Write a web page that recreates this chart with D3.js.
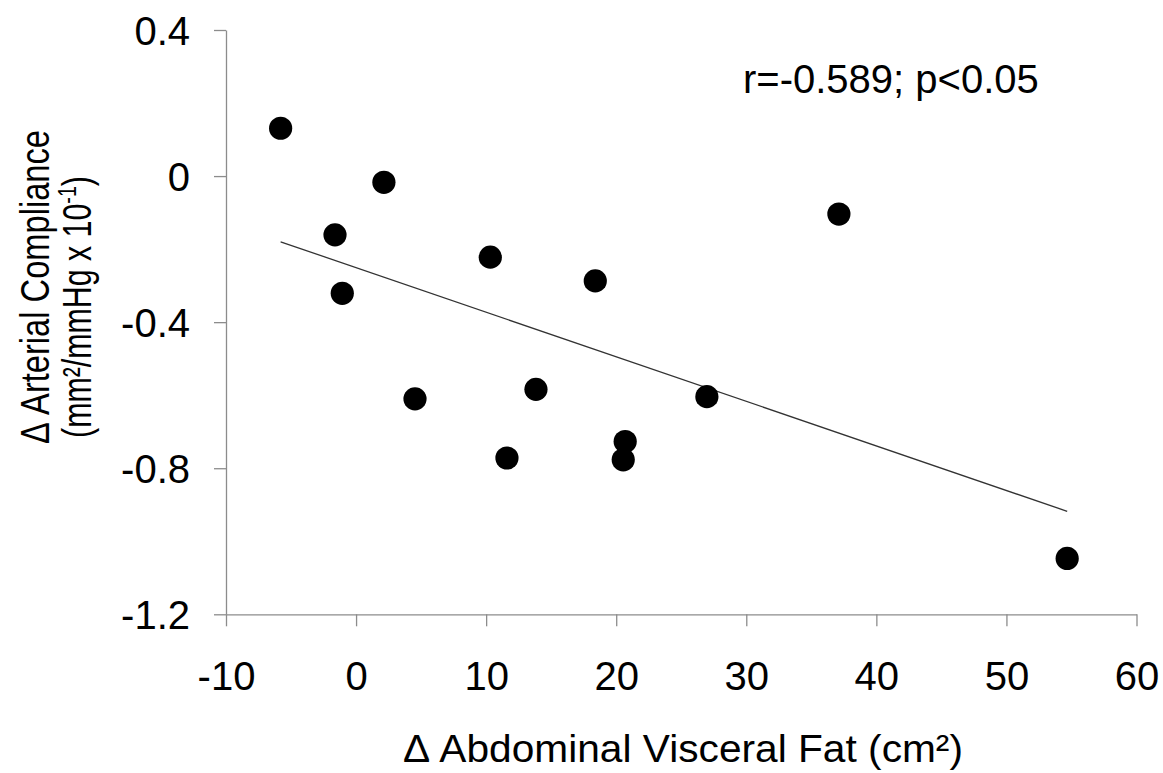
<!DOCTYPE html>
<html>
<head>
<meta charset="utf-8">
<script src="https://cdn.jsdelivr.net/npm/d3@7"></script>
<style>
  html, body { margin: 0; padding: 0; background: #fff; }
  svg { display: block; }
  text { font-family: "Liberation Sans", Arial, sans-serif; fill: #000; }
</style>
</head>
<body>
<svg id="chart" width="1163" height="773"></svg>
<script>
// Data
const fatChange = [-5.80, 2.14, -1.62, 10.32, 18.39, -1.06, 4.53, 13.83, 11.60, 20.69, 20.54, 37.12, 26.97, 54.67];
const complianceChange = [0.131, -0.017, -0.161, -0.222, -0.287, -0.321, -0.610, -0.584, -0.772, -0.727, -0.777, -0.104, -0.604, -1.047];
const xTicks = [-10, 0, 10, 20, 30, 40, 50, 60];
const xTickLabels = ["-10", "0", "10", "20", "30", "40", "50", "60"];
const yTicks = [0.4, 0, -0.4, -0.8, -1.2];
const yTickLabels = ["0.4", "0", "-0.4", "-0.8", "-1.2"];
const annotation = "r=-0.589; p<0.05";

const svg = d3.select("#chart");
const axisColor = "#8c8c8c";

const x = d3.scaleLinear().domain([-10, 60]).range([226, 1136.5]);
const y = d3.scaleLinear().domain([-1.2, 0.4]).range([614.3, 30]);

// X axis
const xAxis = d3.axisBottom(x).tickValues(xTicks).tickSize(12).tickSizeOuter(0)
  .tickFormat((d, i) => xTickLabels[i]);
const gx = svg.append("g").attr("transform", `translate(0,${y(-1.2)})`).call(xAxis);
gx.select(".domain").attr("stroke", axisColor).attr("stroke-width", 1.3);
gx.selectAll(".tick line").attr("stroke", axisColor).attr("stroke-width", 1.3);
gx.selectAll(".tick text").attr("font-size", 40).attr("font-family", "Liberation Sans, Arial, sans-serif")
  .attr("fill", "#000").attr("y", 0).attr("dy", 0).attr("transform", "translate(0,76)");

// Y axis
const yAxis = d3.axisLeft(y).tickValues(yTicks).tickSize(12).tickSizeOuter(0)
  .tickFormat((d, i) => yTickLabels[i]);
const gy = svg.append("g").attr("transform", `translate(${x(-10)},0)`).call(yAxis);
gy.select(".domain").attr("stroke", axisColor).attr("stroke-width", 1.3);
gy.selectAll(".tick line").attr("stroke", axisColor).attr("stroke-width", 1.3);
gy.selectAll(".tick text").attr("font-size", 40).attr("font-family", "Liberation Sans, Arial, sans-serif")
  .attr("fill", "#000").attr("x", -36).attr("dy", "0.36em");

// Regression line computed from the data
const n = fatChange.length;
const mx = d3.mean(fatChange), my = d3.mean(complianceChange);
let sxy = 0, sxx = 0;
for (let i = 0; i < n; i++) {
  sxy += (fatChange[i] - mx) * (complianceChange[i] - my);
  sxx += (fatChange[i] - mx) ** 2;
}
const slope = sxy / sxx, intercept = my - slope * mx;
const [xmin, xmax] = d3.extent(fatChange);
svg.append("line")
  .attr("x1", x(xmin)).attr("y1", y(intercept + slope * xmin))
  .attr("x2", x(xmax)).attr("y2", y(intercept + slope * xmax))
  .attr("stroke", "#333").attr("stroke-width", 1.3);

// Points
svg.append("g").selectAll("circle")
  .data(fatChange.map((v, i) => [v, complianceChange[i]]))
  .join("circle")
  .attr("cx", d => x(d[0])).attr("cy", d => y(d[1]))
  .attr("r", 11.6).attr("fill", "#000");

// Annotation
svg.append("text").attr("x", 743).attr("y", 93).attr("font-size", 40).text(annotation);

// helper: fit a text's length along its reading direction
function fitText(sel, target, cx, cy, rot) {
  const w = sel.node().getBBox().width;
  const s = target / w;
  sel.attr("transform", `translate(${cx},${cy}) rotate(${rot}) scale(${s},1)`);
}

// X title
const xt = svg.append("text").attr("text-anchor", "middle").attr("font-size", 38);
xt.append("tspan").text("\u0394 Abdominal Visceral Fat (cm\u00B2)");
fitText(xt, 560, 683, 762, 0);

// Y title (two lines, rotated)
const yt1 = svg.append("text").attr("text-anchor", "middle").attr("font-size", 40);
yt1.append("tspan").text("\u0394 Arterial Compliance");
fitText(yt1, 314, 49, 287, -90);

const yt2 = svg.append("text").attr("text-anchor", "middle").attr("font-size", 40);
yt2.append("tspan").text("(mm\u00B2/mmHg x 10");
yt2.append("tspan").attr("font-size", 26).attr("dy", -15).text("-1");
yt2.append("tspan").attr("dy", 15).text(")");
fitText(yt2, 262, 91, 307, -90);
</script>
</body>
</html>
